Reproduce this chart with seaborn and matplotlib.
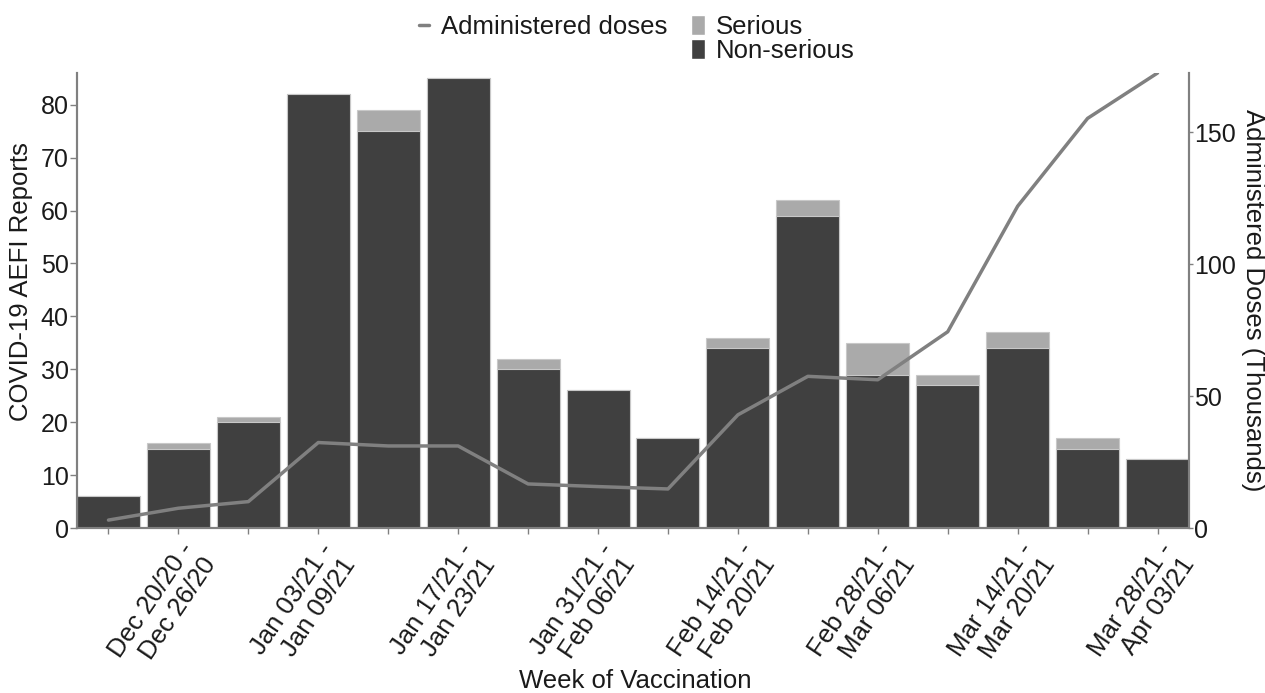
import numpy as np
import pandas as pd
import matplotlib
matplotlib.use("Agg")
import matplotlib.pyplot as plt
import matplotlib.transforms as mtransforms
from matplotlib.lines import Line2D
from matplotlib.patches import Patch
import seaborn as sns

# Weekly AEFI reports and administered doses
weeks = ["Dec 13/20 -\nDec 19/20", "Dec 20/20 -\nDec 26/20", "Dec 27/20 -\nJan 02/21",
         "Jan 03/21 -\nJan 09/21", "Jan 10/21 -\nJan 16/21", "Jan 17/21 -\nJan 23/21",
         "Jan 24/21 -\nJan 30/21", "Jan 31/21 -\nFeb 06/21", "Feb 07/21 -\nFeb 13/21",
         "Feb 14/21 -\nFeb 20/21", "Feb 21/21 -\nFeb 27/21", "Feb 28/21 -\nMar 06/21",
         "Mar 07/21 -\nMar 13/21", "Mar 14/21 -\nMar 20/21", "Mar 21/21 -\nMar 27/21",
         "Mar 28/21 -\nApr 03/21"]
non_serious = [6, 15, 20, 82, 75, 85, 30, 26, 17, 34, 59, 29, 27, 34, 15, 13]
serious = [0, 1, 1, 0, 4, 0, 2, 0, 0, 2, 3, 6, 2, 3, 2, 0]
doses_thousands = [3.0, 7.5, 10.0, 32.4, 31.1, 31.1, 16.7, 15.7, 14.8, 42.9,
                   57.5, 56.2, 74.4, 122.0, 155.3, 172.5]

df = pd.DataFrame({
    "week": weeks,
    "non_serious": non_serious,
    "serious": serious,
    "doses": doses_thousands,
})
df["total"] = df["non_serious"] + df["serious"]
df["pos"] = np.arange(len(df))

sns.set_style("white")
plt.rcParams["font.family"] = ["Liberation Sans", "DejaVu Sans"]
text_color = "#1a1a1a"
spine_color = "#808080"
dark = "#404040"
light = "#aaaaaa"

fig = plt.figure(figsize=(12.65, 6.93), dpi=100)
ax = fig.add_axes([77 / 1265, 165 / 693, 1112 / 1265, 455 / 693])

# stacked bars: total in light, non-serious drawn on top in dark
sns.barplot(data=df, x="week", y="total", color=light, width=0.9,
            edgecolor="#c8c8c8", linewidth=0.8, saturation=1, ax=ax)
sns.barplot(data=df, x="week", y="non_serious", color=dark, width=0.9,
            edgecolor="#c8c8c8", linewidth=0.8, saturation=1, ax=ax)

ax.set_xlim(-0.45, len(df) - 0.55)
ax.set_ylim(0, 86)
ax.set_yticks(range(0, 81, 10))
ax.set_ylabel("COVID-19 AEFI Reports", fontsize=18.5, color=text_color)
ax.yaxis.set_label_coords(-0.040, 0.541)
ax.set_xlabel("Week of Vaccination", fontsize=18.5, color=text_color)
ax.xaxis.set_label_coords(0.502, -0.31)

ax.set_xticks(df["pos"])
ax.set_xticklabels([w if i % 2 == 1 else "" for i, w in enumerate(weeks)],
                   rotation=56, ha="right", va="top", rotation_mode="anchor",
                   fontsize=18.5, color=text_color, linespacing=1.15)
shift = mtransforms.ScaledTranslation(-7 / 100, 0, fig.dpi_scale_trans)
for lab in ax.get_xticklabels():
    lab.set_transform(lab.get_transform() + shift)

ax.tick_params(axis="y", labelsize=18, colors=text_color, length=5, width=1,
               color=spine_color, pad=1, direction="out", left=True)
ax.tick_params(axis="x", length=4, width=1, color=spine_color, bottom=True)

# administered doses on secondary axis
ax2 = ax.twinx()
sns.lineplot(data=df, x="pos", y="doses", color="#808080", linewidth=2.5, ax=ax2)
ax2.set_ylim(0, 172.5)
ax2.set_yticks([0, 50, 100, 150])
ax2.set_ylabel("Administered Doses (Thousands)", fontsize=18.5, color=text_color,
               rotation=270, va="bottom")
ax2.yaxis.set_label_coords(1.047, 0.5)
ax2.tick_params(axis="y", labelsize=18, colors=text_color, length=3, width=1,
                color=spine_color, pad=0.5, right=True)
ax2.set_xlabel("")

for a in (ax, ax2):
    a.spines["top"].set_visible(False)
    for s in ("left", "right", "bottom"):
        a.spines[s].set_color(spine_color)
        a.spines[s].set_linewidth(1.5)

# legends
line_handle = [Line2D([0], [0], color="#808080", linewidth=2.5)]
fig.legend(line_handle, ["Administered doses"], loc="upper left",
           bbox_to_anchor=(0.313, 1.012), frameon=False, fontsize=18.5,
           handlelength=0.4, handletextpad=0.45, labelcolor=text_color)
bar_handles = [Patch(facecolor=light), Patch(facecolor=dark)]
fig.legend(bar_handles, ["Serious", "Non-serious"], loc="upper left",
           bbox_to_anchor=(0.528, 1.012), frameon=False, fontsize=18.5,
           handlelength=0.55, handleheight=0.85, handletextpad=0.4,
           labelspacing=0.0, labelcolor=text_color)

fig.savefig("out.png", dpi=100)
